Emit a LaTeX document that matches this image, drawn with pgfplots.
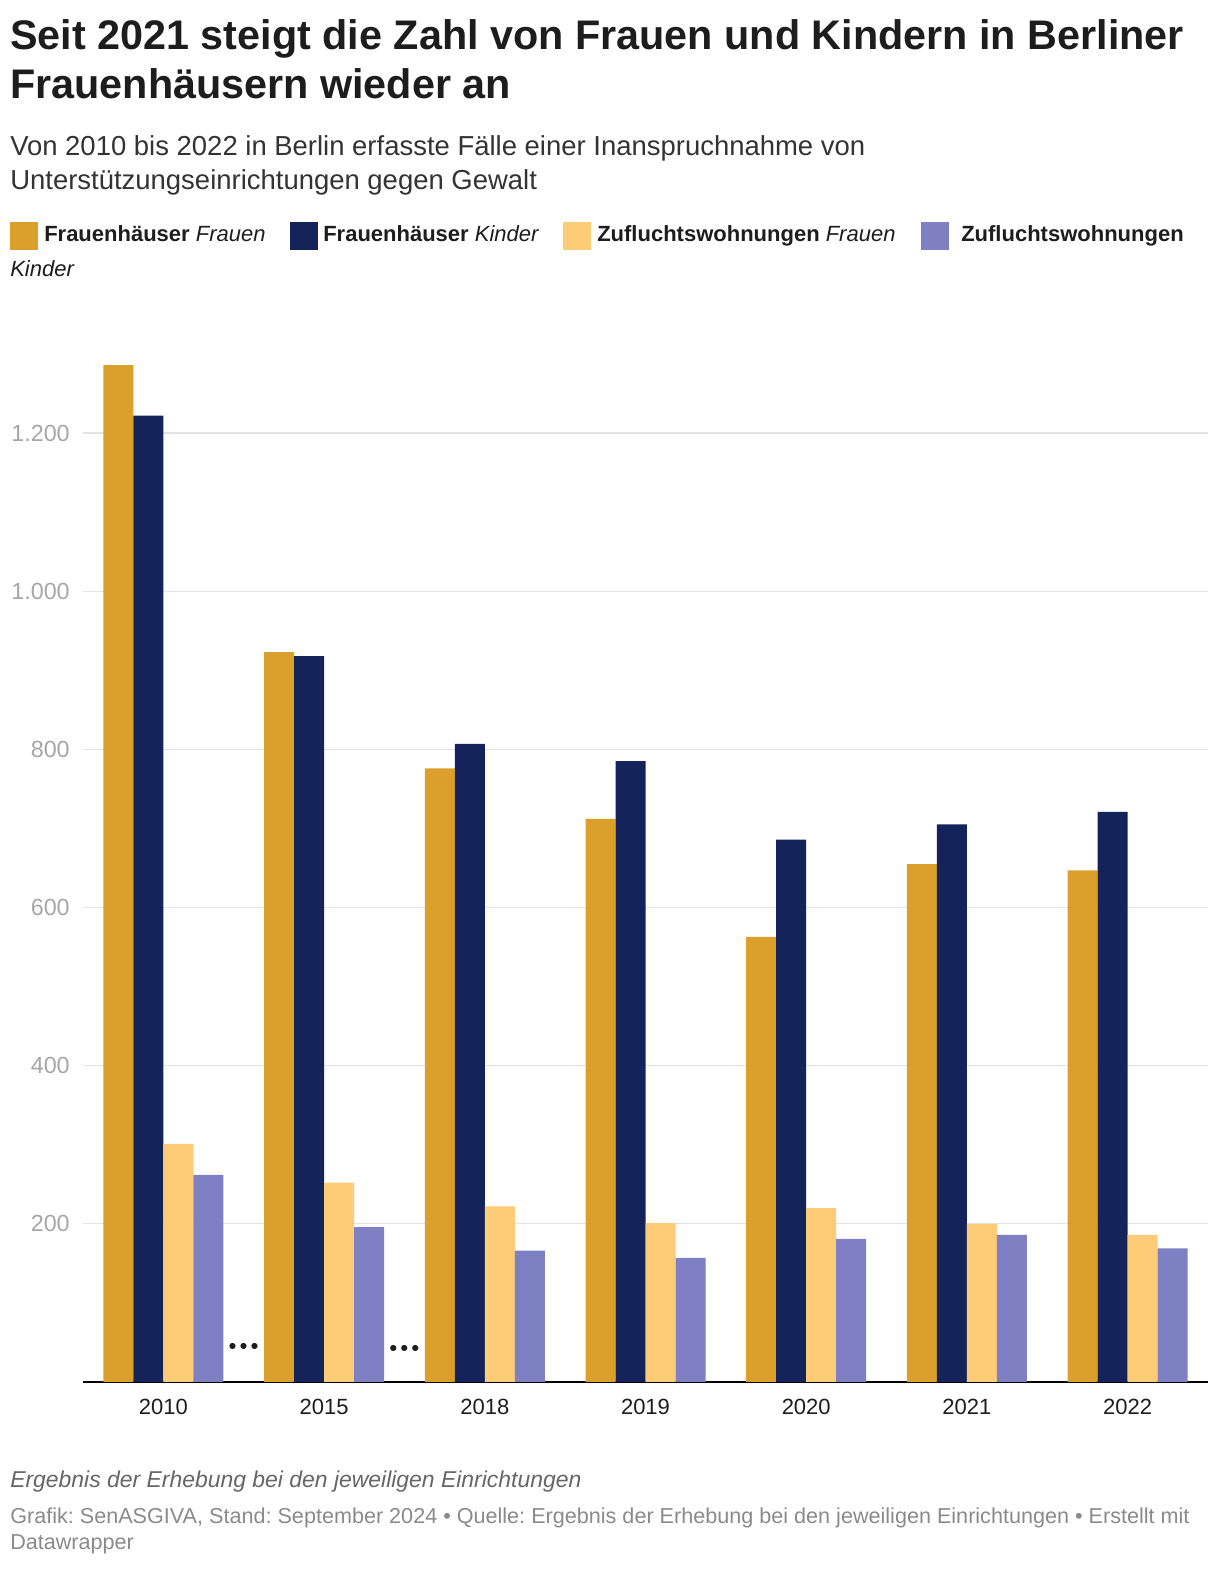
\documentclass[border=0pt]{standalone}
\usepackage{pgfplots}
\pgfplotsset{compat=1.18}
\usepackage{fontspec}
\setmainfont{Liberation Sans}
\frenchspacing
\definecolor{cA}{HTML}{DB9F2B}
\definecolor{cB}{HTML}{14235A}
\definecolor{cC}{HTML}{FECB77}
\definecolor{cD}{HTML}{7F7FC3}
\definecolor{gridc}{HTML}{E3E3E3}
\definecolor{txt}{HTML}{1D1D1D}
\definecolor{sub}{HTML}{333333}
\definecolor{tick}{HTML}{A6A6A6}
\definecolor{note}{HTML}{666666}
\definecolor{cred}{HTML}{8A8A8A}
\begin{document}
\begin{tikzpicture}[x=0.75pt,y=0.75pt]
\path[use as bounding box] (0,0) rectangle (1220,1570);
% title
\node[anchor=base west,inner sep=0,text=txt,font=\fontsize{31}{36}\selectfont\bfseries] at (10,1520) {Seit 2021 steigt die Zahl von Frauen und Kindern in Berliner};
\node[anchor=base west,inner sep=0,text=txt,font=\fontsize{31}{36}\selectfont\bfseries] at (10,1471) {Frauenhäusern wieder an};
% subtitle
\node[anchor=base west,inner sep=0,text=sub,font=\fontsize{20.6}{24}\selectfont] at (10,1414) {Von 2010 bis 2022 in Berlin erfasste Fälle einer Inanspruchnahme von};
\node[anchor=base west,inner sep=0,text=sub,font=\fontsize{20.6}{24}\selectfont] at (10,1380) {Unterstützungseinrichtungen gegen Gewalt};
% legend
\fill[cA] (10,1320) rectangle (38,1348);
\node[anchor=base west,inner sep=0,text=txt,font=\fontsize{16.5}{20}\selectfont] at (44,1328) {\textbf{Frauenhäuser} \textit{Frauen}};
\fill[cB] (290,1320) rectangle (318,1348);
\node[anchor=base west,inner sep=0,text=txt,font=\fontsize{16.5}{20}\selectfont] at (323,1328) {\textbf{Frauenhäuser} \textit{Kinder}};
\fill[cC] (563,1320) rectangle (591,1348);
\node[anchor=base west,inner sep=0,text=txt,font=\fontsize{16.5}{20}\selectfont] at (597,1328) {\textbf{Zufluchtswohnungen} \textit{Frauen}};
\fill[cD] (921,1320) rectangle (949,1348);
\node[anchor=base west,inner sep=0,text=txt,font=\fontsize{16.5}{20}\selectfont] at (961,1328) {\textbf{Zufluchtswohnungen}};
\node[anchor=base west,inner sep=0,text=txt,font=\fontsize{16.5}{20}\selectfont] at (10,1293) {\textit{Kinder}};
% footer
\node[anchor=base west,inner sep=0,text=note,font=\fontsize{17.2}{20}\selectfont\itshape] at (10,82) {Ergebnis der Erhebung bei den jeweiligen Einrichtungen};
\node[anchor=base west,inner sep=0,text=cred,font=\fontsize{16.2}{19}\selectfont] at (10,46) {Grafik: SenASGIVA, Stand: September 2024 • Quelle: Ergebnis der Erhebung bei den jeweiligen Einrichtungen • Erstellt mit};
\node[anchor=base west,inner sep=0,text=cred,font=\fontsize{16.2}{19}\selectfont] at (10,20) {Datawrapper};
\begin{axis}[
  at={(62.25pt,141pt)}, anchor=south west,
  scale only axis, width=843.75pt, height=771pt,
  xmin=-0.5, xmax=6.5, ymin=0, ymax=1300,
  ybar, bar width=22.5pt,
  axis x line*=bottom, axis y line*=left,
  x axis line style={line width=1.5pt, black, -},
  y axis line style={draw=none},
  xtick={0,...,6},
  xticklabels={2010,2015,2018,2019,2020,2021,2022},
  xtick style={draw=none},
  xticklabel style={anchor=base, inner sep=0pt, yshift=-24.75pt, text=txt, font=\fontsize{16.5}{20}\selectfont},
  ytick={200,400,600,800,1000,1200},
  ytick style={draw=none},
  major tick length=0pt,
  ymajorgrids, grid style={gridc, line width=0.9pt},
  yticklabel style={anchor=east, inner sep=0pt, xshift=-9.75pt, text=tick, font=\fontsize{17.5}{20}\selectfont},
  /pgf/number format/.cd, 1000 sep={.}, assume math mode=true,
]
\addplot[fill=cA, draw=none, bar shift=-33.75pt] coordinates {(0,1286) (1,923) (2,776) (3,712) (4,563) (5,655) (6,647)};
\addplot[fill=cB, draw=none, bar shift=-11.25pt] coordinates {(0,1222) (1,918) (2,807) (3,785) (4,686) (5,705) (6,721)};
\addplot[fill=cC, draw=none, bar shift=11.25pt] coordinates {(0,301) (1,252) (2,222) (3,201) (4,220) (5,200) (6,186)};
\addplot[fill=cD, draw=none, bar shift=33.75pt] coordinates {(0,262) (1,196) (2,166) (3,157) (4,181) (5,186) (6,169)};
\node[text=txt, font=\fontsize{16}{20}\selectfont\bfseries] at (axis cs:0.5,42) {•\,•\,•};
\node[text=txt, font=\fontsize{16}{20}\selectfont\bfseries] at (axis cs:1.5,40) {•\,•\,•};
\end{axis}
\end{tikzpicture}
\end{document}
